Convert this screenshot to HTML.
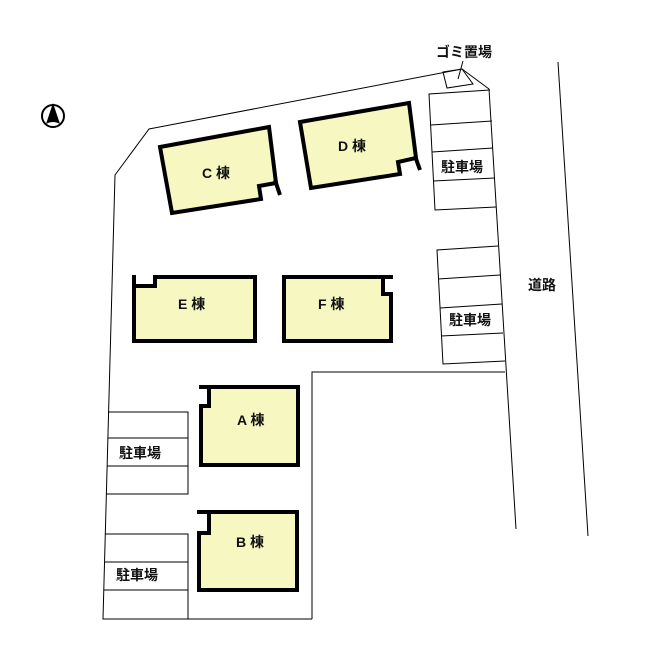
<!DOCTYPE html>
<html><head><meta charset="utf-8"><style>
html,body{margin:0;padding:0;background:#fff;width:650px;height:650px;overflow:hidden}
svg{display:block}
text{font-family:"Liberation Sans","Noto Sans CJK JP",sans-serif;font-weight:bold;font-size:14px;fill:#111}
</style></head><body>
<svg width="650" height="650" viewBox="0 0 650 650" xmlns="http://www.w3.org/2000/svg">
<g fill="none" stroke="#000" stroke-width="1">
<polyline points="312,619 103,619 115,175 149,129 462,69 489,89 516,529"/>
<polyline points="312,619 312,372 505,372"/>
<line x1="558" y1="62" x2="588" y2="536"/>
<polygon points="443,72 462,69 473,84 447,88"/>
<line x1="463" y1="61" x2="458" y2="79"/>
<polyline points="490,90 429,94 435,210 496,207"/>
<line x1="431" y1="125" x2="492" y2="121"/>
<line x1="432" y1="152" x2="493" y2="148"/>
<line x1="433" y1="181" x2="495" y2="178"/>
<polyline points="498,246 437,250 443,364 505,361"/>
<line x1="438" y1="279" x2="500" y2="275"/>
<line x1="440" y1="308" x2="502" y2="304"/>
<line x1="441" y1="336" x2="503" y2="333"/>
<polyline points="108,412 188,412 188,494 106,494"/>
<line x1="108" y1="438" x2="188" y2="438"/>
<line x1="107" y1="466" x2="188" y2="466"/>
<polyline points="105,534 188,534 188,619"/>
<line x1="105" y1="562" x2="188" y2="562"/>
<line x1="104" y1="590" x2="188" y2="590"/>
</g>
<g fill="#f7f7c2" stroke="#000" stroke-width="4" stroke-linejoin="miter">
<polygon points="160,147 269,127 276,183 259,186 261,199 172,213"/>
<line x1="275" y1="180" x2="280" y2="195"/>
<polygon points="300,122 409,103 416,158 398,162 400,174 311,188"/>
<line x1="415" y1="156" x2="420" y2="170"/>
<polygon points="134,286 155,286 155,277 255,277 255,341 134,341"/>
<line x1="134" y1="288" x2="134" y2="275"/>
<polygon points="284,277 383,277 383,294 391,294 391,341 284,341"/>
<line x1="381" y1="277" x2="393" y2="277"/>
<polygon points="209,387 298,387 298,465 201,465 201,406 209,406"/>
<line x1="211" y1="387" x2="199" y2="387"/>
<polygon points="209,512 297,512 297,590 199,590 199,533 209,533"/>
<line x1="211" y1="512" x2="197" y2="512"/>
</g>
<circle cx="53" cy="116" r="11" fill="#fff" stroke="#000" stroke-width="2"/>
<path d="M53,103 L46,124 Q53,120 60,124 Z" fill="#000"/>
<text x="202" y="178">C 棟</text>
<text x="338" y="151">D 棟</text>
<text x="178" y="309">E 棟</text>
<text x="318" y="309">F 棟</text>
<text x="237" y="425">A 棟</text>
<text x="236" y="547">B 棟</text>
<text x="436" y="57">ゴミ置場</text>
<text x="441" y="172">駐車場</text>
<text x="449" y="325">駐車場</text>
<text x="119" y="458">駐車場</text>
<text x="116" y="580">駐車場</text>
<text x="528" y="290">道路</text>
</svg>
</body></html>
